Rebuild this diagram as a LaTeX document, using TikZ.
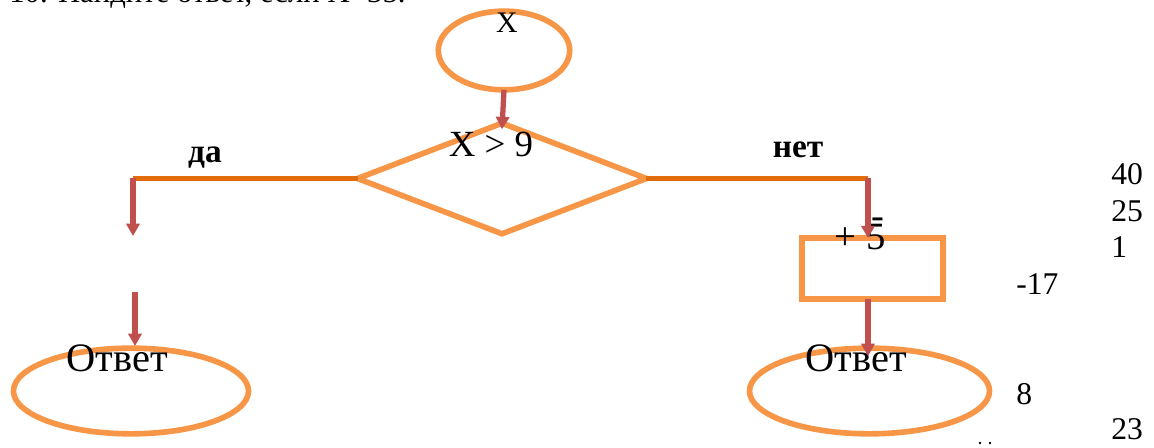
\documentclass[tikz,border=0pt]{standalone}
\usepackage{fontspec}
\setmainfont{Liberation Serif}
\usetikzlibrary{arrows.meta,shapes.geometric}
\definecolor{shapeor}{HTML}{F79646}
\definecolor{lineor}{HTML}{E36C0A}
\definecolor{arrred}{HTML}{C0504D}
% one drawing unit of the picture, as a length
\def\pu{0.5669pt}
\tikzset{
  outline/.style={draw=shapeor,line width=3.2pt,inner sep=0pt,outer sep=0pt},
  oval/.style={outline,ellipse},
  branch/.style={draw=lineor,line width=3.4pt},
  flow/.style={draw=arrred,line width=3pt,-{Triangle[length=7pt,width=7.5pt]}},
  lbl/.style={inner sep=0pt,anchor=base},
  num/.style={inner sep=0pt,anchor=base west,font=\fontsize{18}{21}\selectfont},
}
\begin{document}
\begin{tikzpicture}[x=0.02cm,y=-0.02cm]
\useasboundingbox (0,0) rectangle (1154,448);
\clip (0,0) rectangle (1154,448);
\fill[white] (0,0) rectangle (1154,448);

% task statement, cut off by the top edge
\node[inner sep=0pt,anchor=base west,font=\fontsize{17.5}{21}\selectfont] (task) at (9,3) {10. Найдите ответ, если Х=35.};

% blocks
\node[oval,minimum width=132*\pu,minimum height=79*\pu] (start) at (504,50.5) {};
\node[outline,diamond,minimum width=290*\pu,minimum height=111*\pu] (cond) at (502,178.5) {};
\node[outline,rectangle,minimum width=142*\pu,minimum height=61*\pu] (add) at (872.5,268.5) {};
\node[oval,minimum width=236*\pu,minimum height=86*\pu] (resL) at (131,391) {};
\node[oval,minimum width=241*\pu,minimum height=86*\pu] (resR) at (869.5,391) {};

% texts
\node[lbl,font=\fontsize{17}{20}\selectfont] (tx) at (507,33) {X};
\node[lbl,font=\fontsize{21}{24}\selectfont] (tcond) at (491,157) {X > 9};
\node[lbl,font=\bfseries\fontsize{19}{22}\selectfont] (tyes) at (205,163) {да};
\node[lbl,font=\bfseries\fontsize{19}{22}\selectfont] (tno) at (798,158) {нет};
\node[lbl,font=\fontsize{22}{26}\selectfont] (tadd) at (860,250) {+ 5};
\node[inner sep=0pt,font=\fontsize{22}{26}\selectfont] (tdash) at (878,223.5) {-};
\node[lbl,font=\fontsize{23}{27}\selectfont] (tresL) at (117,372) {Ответ};
\node[lbl,font=\fontsize{23}{27}\selectfont] (tresR) at (856,372) {Ответ};

% answer choices
\node[num] (n40) at (1111,185) {40};
\node[num] (n25) at (1111,222) {25};
\node[num] (n1) at (1111,258) {1};
\node[num] (n17) at (1016,295) {-17};
\node[num] (n8) at (1016,405) {8};
\node[num] (n23) at (1111,440) {23};

% branch corners and loose arrow ends
\coordinate (cL) at (133,178.5);
\coordinate (cR) at (868,178.5);
\coordinate (aL1) at (133,236);
\coordinate (aL2) at (135,292);
\coordinate (tipL) at (135,346);
\coordinate (tipR) at (868,356);

% connectors
\draw[branch] (cond.west) -- (cL);
\draw[branch] (cond.east) -- (cR);
\draw[flow] (start.south) -- ([yshift=-0.12cm]cond.north);
\draw[flow] (cL) -- (aL1);
\draw[flow] (aL2) -- (tipL);
\draw[flow] (cR) -- (cR |- add.north);
\draw[flow] (cR |- add.south) -- (tipR);

% two specks near the bottom edge
\fill (980,443) circle (1.3) (990,443) circle (1.3);
\end{tikzpicture}
\end{document}
